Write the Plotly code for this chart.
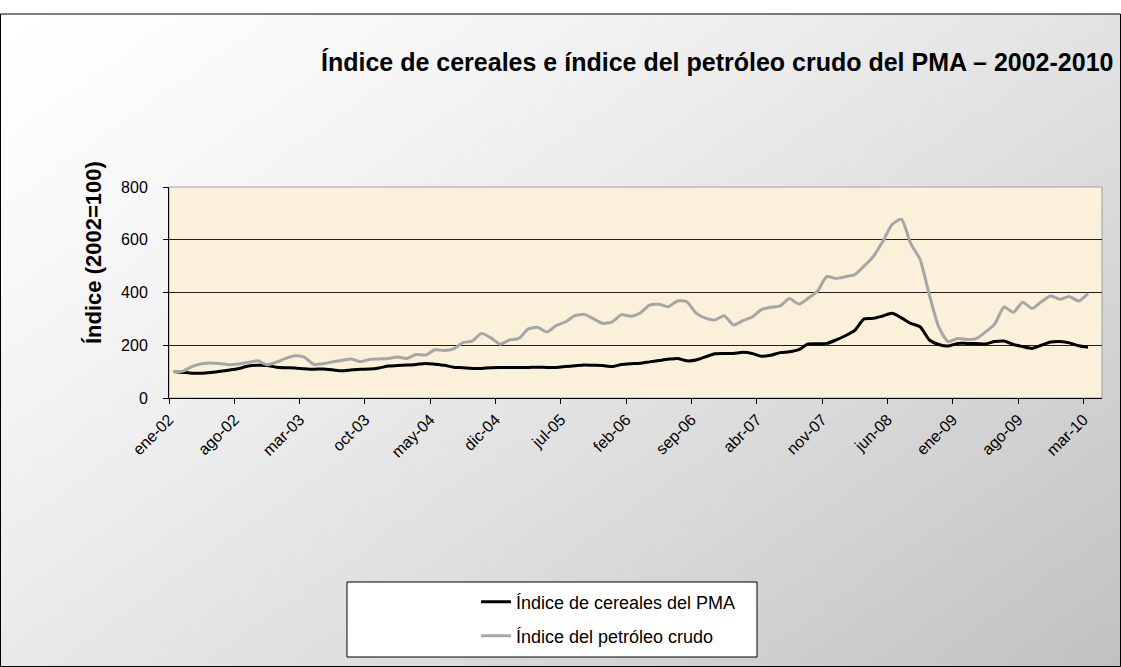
import zlib, struct, base64
import plotly.graph_objects as go

# ---------------- data ----------------
cereales = [100, 97, 94, 94, 97, 101, 106, 112, 121, 124,
            123, 117, 115, 114, 111, 109, 110, 107, 103, 106,
            109, 110, 114, 121, 123, 125, 127, 131, 128, 124,
            117, 115, 112, 112, 115, 116, 116, 116, 116, 117,
            116, 116, 119, 122, 125, 124, 123, 119, 127, 130,
            132, 137, 142, 147, 150, 141, 144, 156, 168, 169,
            169, 173, 169, 158, 162, 172, 175, 183, 205, 206,
            207, 220, 236, 256, 300, 302, 311, 321, 304, 283,
            270, 220, 203, 197, 207, 207, 207, 205, 214, 216,
            203, 195, 188, 200, 212, 214, 209, 198, 192]
petroleo = [100, 102, 120, 130, 133, 130, 126, 129, 135, 141,
            126, 136, 150, 160, 155, 128, 130, 137, 142, 148,
            138, 146, 148, 150, 155, 150, 165, 163, 183, 180,
            186, 210, 216, 245, 228, 204, 220, 226, 262, 268,
            250, 275, 289, 312, 317, 300, 283, 289, 316, 310,
            322, 352, 355, 346, 368, 365, 322, 303, 296, 312,
            277, 293, 307, 335, 344, 349, 377, 356, 378, 405,
            460, 453, 460, 468, 500, 537, 593, 658, 678, 585,
            525, 390, 270, 214, 226, 222, 225, 250, 280, 345,
            325, 363, 340, 365, 387, 374, 385, 368, 396]
tick_labels = ["ene-02", "ago-02", "mar-03", "oct-03", "may-04", "dic-04", "jul-05",
               "feb-06", "sep-06", "abr-07", "nov-07", "jun-08", "ene-09", "ago-09", "mar-10"]
series_names = ["Índice de cereales del PMA", "Índice del petróleo crudo"]
title_text = "Índice de cereales e índice del petróleo crudo del PMA – 2002-2010"
ytitle_text = "Índice (2002=100)"

months = list(range(len(cereales)))
tick_step = 7
tick_pos = [i * tick_step - 0.5 for i in range(len(tick_labels))]

# ---------------- layout geometry ----------------
W, H = 1121, 667
L, R, T, B = 169, 1102, 187, 398
PW, PH = R - L, B - T


def px(xp):
    return (xp - L) / PW


def py(yp):
    return (B - yp) / PH


# gradient background image
def gradient_png(w, h):
    rows = []
    for j in range(h):
        row = bytearray([0])
        for i in range(w):
            t = 0.55 * (i / (w - 1)) + 0.45 * (j / (h - 1))
            v = int(round(255 - 62 * (t ** 1.3)))
            row += bytes([v, v, v])
        rows.append(bytes(row))
    raw = b"".join(rows)

    def chunk(tag, data):
        c = struct.pack(">I", len(data)) + tag + data
        return c + struct.pack(">I", zlib.crc32(tag + data) & 0xffffffff)

    png = b"\x89PNG\r\n\x1a\n" + chunk(b"IHDR", struct.pack(">IIBBBBB", w, h, 8, 2, 0, 0, 0))
    png += chunk(b"IDAT", zlib.compress(raw, 9)) + chunk(b"IEND", b"")
    return "data:image/png;base64," + base64.b64encode(png).decode()


FONT = "Liberation Sans, Arial, sans-serif"

fig = go.Figure()
fig.add_trace(go.Scatter(x=months, y=cereales, mode="lines", name=series_names[0],
                         line=dict(color="#000000", width=3, shape="spline", smoothing=0.6),
                         legend="legend", showlegend=True))
fig.add_trace(go.Scatter(x=months, y=petroleo, mode="lines", name=series_names[1],
                         line=dict(color="#A6A6A6", width=3, shape="spline", smoothing=0.6),
                         legend="legend2", showlegend=True))

fig.update_layout(
    width=W, height=H,
    showlegend=True,
    margin=dict(l=L, r=W - R, t=T, b=H - B, pad=0),
    paper_bgcolor="white",
    plot_bgcolor="rgba(0,0,0,0)",
    font=dict(family=FONT, color="black", size=15),
    xaxis=dict(range=[-0.5, len(cereales) + 0.5], tickvals=tick_pos, ticktext=tick_labels,
               tickangle=-45, ticks="outside", ticklen=5, tickcolor="black",
               showline=True, linecolor="black", linewidth=1, showgrid=False, zeroline=False,
               tickfont=dict(size=16, family=FONT)),
    yaxis=dict(range=[0, 800], dtick=200, ticks="outside", ticklen=5, tickcolor="black",
               showline=True, linecolor="black", linewidth=1, showgrid=True,
               gridcolor="#202020", gridwidth=1, zeroline=False, ticklabelstandoff=12,
               tickfont=dict(size=16, family=FONT)),
    legend=dict(x=px(476), y=py(602), xanchor="left", yanchor="middle",
                bgcolor="rgba(0,0,0,0)", borderwidth=0, font=dict(size=18, family=FONT)),
    legend2=dict(x=px(476), y=py(636), xanchor="left", yanchor="middle",
                 bgcolor="rgba(0,0,0,0)", borderwidth=0, font=dict(size=18, family=FONT)),
    images=[dict(source=gradient_png(224, 131), xref="paper", yref="paper",
                 x=px(0), y=py(14), sizex=W / PW, sizey=(H - 14) / PH,
                 xanchor="left", yanchor="top", sizing="stretch", layer="below")],
    shapes=[
        dict(type="rect", xref="paper", yref="paper", x0=0, x1=1, y0=0, y1=1,
             fillcolor="#FBF0DA", line=dict(color="#A0A0A0", width=1), layer="below"),
        dict(type="rect", xref="paper", yref="paper", x0=px(347), x1=px(757),
             y0=py(657), y1=py(582), fillcolor="white",
             line=dict(color="black", width=1), layer="below"),
        dict(type="rect", xref="paper", yref="paper", x0=px(0.5), x1=px(1120.5),
             y0=py(666.5), y1=py(14), fillcolor="rgba(0,0,0,0)",
             line=dict(color="black", width=1), layer="above"),
    ],
    annotations=[
        dict(text="<b>" + title_text + "</b>", xref="paper", yref="paper",
             x=px(1115), y=py(62), xanchor="right", yanchor="middle", showarrow=False,
             font=dict(size=25, family=FONT, color="black")),
        dict(text="<b>" + ytitle_text + "</b>", xref="paper", yref="paper",
             x=px(93), y=py(253), xanchor="center", yanchor="middle", showarrow=False,
             textangle=-90, font=dict(size=22, family=FONT, color="black")),
    ],
)

fig.write_html("out.html", config={"displayModeBar": False},
               post_script="document.body.style.margin='0';document.body.style.overflow='hidden';")
